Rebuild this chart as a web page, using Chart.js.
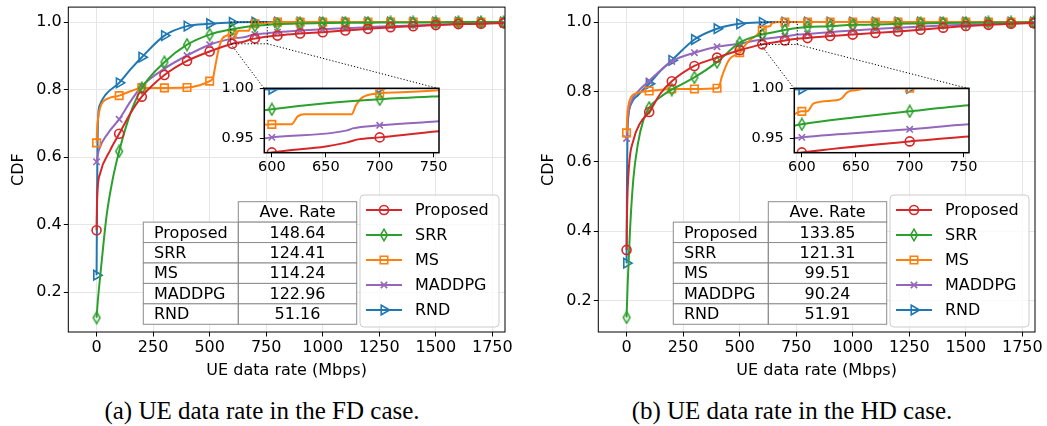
<!DOCTYPE html>
<html lang="en">
<head>
<meta charset="UTF-8">
<title>UE data rate CDF</title>
<script src="https://cdn.jsdelivr.net/npm/chart.js"></script>
<style>
  body { margin: 0; background: #fff; }
  #page { position: relative; width: 1047px; height: 426px; overflow: hidden; }
  canvas { position: absolute; }
  .caption { position: absolute; top: 398px; line-height: 26px; font-family: 'Liberation Serif', 'Times New Roman', serif; font-size: 25px; white-space: nowrap; transform: translateX(-50%); }
</style>
</head>
<body>
<div id="page">
  <canvas id="fdChart" width="523" height="380" style="left:0;top:0"></canvas>
  <canvas id="hdChart" width="517" height="380" style="left:530px;top:0"></canvas>
  <canvas id="fdInset" width="240" height="100" style="left:210px;top:80px"></canvas>
  <canvas id="hdInset" width="240" height="100" style="left:740px;top:80px"></canvas>
  <div class="caption" style="left:262px">(a) UE data rate in the FD case.</div>
  <div class="caption" style="left:792px">(b) UE data rate in the HD case.</div>
</div>

<script>
    // tick labels
    const xTicks = [0, 250, 500, 750, 1000, 1250, 1500, 1750];
    const yTicks = [0.2, 0.4, 0.6, 0.8, 1.0];
    const insetXTicks = [600, 650, 700, 750];
    const insetYTicks = [0.95, 1.00];

    const seriesNames = ['Proposed', 'SRR', 'MS', 'MADDPG', 'RND'];
    const fdAvgRate = [148.64, 124.41, 114.24, 122.96, 51.16];
    const hdAvgRate = [133.85, 121.31, 99.51, 90.24, 51.91];

    // FD case, [rate, cdf]
    const fdProposed = [[0,.383],[2,.47],[15,.55],[60,.62],[100,.669],[150,.73],[200,.779],[300,.843],[400,.885],[500,.913],[600,.936],[650,.942],[670,.946],[680,.949],[700,.951],[755,.957],[800,.960],[900,.966],[1000,.970],[1100,.975],[1200,.980],[1300,.985],[1400,.988],[1500,.991],[1600,.994],[1700,.995],[1800,.997]];
    const fdSRR = [[0,.124],[5,.17],[15,.24],[30,.34],[45,.43],[70,.53],[100,.617],[150,.73],[200,.804],[300,.881],[400,.933],[500,.963],[600,.979],[650,.985],[700,.989],[755,.992],[800,.994],[900,.996],[1000,.997],[1100,.998],[1200,.998],[1300,.999],[1400,.999],[1500,.999],[1600,1],[1700,1],[1800,1]];
    const fdMS = [[0,.642],[3,.69],[8,.72],[15,.745],[30,.765],[60,.776],[100,.782],[150,.795],[200,.805],[300,.805],[400,.806],[450,.812],[500,.825],[515,.835],[525,.87],[540,.92],[555,.95],[575,.96],[600,.964],[618,.964],[624,.972],[630,.974],[674,.974],[678,.983],[684,.991],[700,.995],[720,.996],[755,.998],[800,1],[900,1],[1000,1],[1100,1],[1200,1],[1300,1],[1400,1],[1500,1],[1600,1],[1700,1],[1800,1]];
    const fdMADDPG = [[0,.586],[10,.62],[50,.67],[100,.712],[150,.765],[200,.81],[300,.862],[400,.901],[500,.933],[600,.951],[670,.958],[675,.960],[700,.963],[755,.967],[800,.970],[900,.975],[1000,.979],[1100,.982],[1200,.985],[1300,.988],[1400,.990],[1500,.992],[1600,.994],[1700,.996],[1800,.998]];
    const fdRND = [[0,.25],[2,.45],[4,.62],[7,.72],[15,.755],[40,.785],[100,.82],[150,.86],[200,.896],[300,.96],[400,.988],[500,.995],[600,.999],[700,1],[800,1],[900,1],[1000,1],[1100,1],[1200,1],[1300,1],[1400,1],[1500,1],[1600,1],[1700,1],[1800,1]];

    // HD case
    const hdProposed = [[0,.346],[2,.45],[10,.58],[30,.66],[60,.71],[100,.742],[150,.795],[200,.830],[300,.874],[400,.898],[500,.919],[600,.936],[700,.947],[755,.952],[800,.954],[900,.960],[1000,.964],[1100,.969],[1200,.973],[1300,.978],[1400,.984],[1500,.989],[1600,.992],[1700,.995],[1800,.997]];
    const hdSRR = [[0,.152],[5,.25],[15,.40],[30,.55],[50,.65],[75,.72],[100,.754],[150,.785],[200,.806],[300,.841],[400,.885],[500,.941],[600,.964],[650,.971],[700,.977],[755,.983],[800,.986],[900,.988],[1000,.992],[1100,.993],[1200,.995],[1300,.996],[1400,.997],[1500,.998],[1600,.999],[1700,.999],[1800,1]];
    const hdMS = [[0,.682],[3,.73],[8,.76],[20,.785],[50,.797],[100,.802],[200,.808],[300,.808],[400,.81],[410,.815],[420,.84],[440,.875],[457,.895],[480,.905],[500,.912],[520,.93],[545,.948],[575,.962],[590,.972],[600,.977],[605,.977],[611,.985],[632,.988],[637,.99],[642,.996],[650,.998],[662,1],[700,1],[800,1],[900,1],[1000,1],[1100,1],[1200,1],[1300,1],[1400,1],[1500,1],[1600,1],[1700,1],[1800,1]];
    const hdMADDPG = [[0,.666],[5,.72],[20,.77],[50,.80],[100,.831],[200,.887],[300,.912],[400,.929],[500,.938],[600,.951],[700,.959],[755,.964],[800,.966],[900,.971],[1000,.976],[1100,.980],[1200,.984],[1300,.987],[1400,.990],[1500,.992],[1600,.994],[1700,.996],[1800,.998]];
    const hdRND = [[0,.308],[2,.55],[4,.68],[8,.73],[20,.765],[50,.79],[100,.823],[150,.86],[200,.89],[300,.95],[400,.981],[500,.995],[600,.999],[700,1],[800,1],[900,1],[1000,1],[1100,1],[1200,1],[1300,1],[1400,1],[1500,1],[1600,1],[1700,1],[1800,1]];

    // styles
    const seriesColors = ['#d62728', '#2ca02c', '#ff7f0e', '#9467bd', '#1f77b4'];
    const markerRadius = [4.5, 5, 5.3, 4.5, 5.5];
    const markerRotation = [0, 0, 0, 0, 90];
    const insetRange = { x: [593, 755], y: [0.9357, 1.0] };
    // inset box relative to main chart area
    const insetBox = { left: 196, top: 81.6, right: 370.7 };

    Chart.defaults.font.family = "'DejaVu Sans', sans-serif";
    Chart.defaults.font.size = 16;
    Chart.defaults.color = '#000';

    function thinDiamond(color) {
        const c = document.createElement('canvas');
        c.width = 10; c.height = 14;
        const g = c.getContext('2d');
        g.strokeStyle = color; g.lineWidth = 1.5;
        g.beginPath();
        g.moveTo(5, 1.2); g.lineTo(8.4, 7); g.lineTo(5, 12.8); g.lineTo(1.6, 7);
        g.closePath(); g.stroke();
        return c;
    }
    const markerStyles = ['circle', thinDiamond(seriesColors[1]), 'rect', 'crossRot', 'triangle'];

    function makeDatasets(seriesData) {
        return seriesData.map((pts, i) => ({
            label: seriesNames[i],
            data: pts.map(p => ({ x: p[0], y: p[1] })),
            borderColor: seriesColors[i],
            backgroundColor: 'rgba(0,0,0,0)',
            borderWidth: 2,
            pointStyle: markerStyles[i],
            pointRotation: markerRotation[i],
            pointBorderColor: seriesColors[i],
            pointBackgroundColor: 'rgba(0,0,0,0)',
            pointBorderWidth: 1.6,
            pointRadius: c => (c.raw && c.raw.x % 100 === 0) ? markerRadius[i] : 0,
            pointHoverRadius: 0,
            cubicInterpolationMode: 'monotone',
            fill: false,
            clip: 0
        }));
    }

    function noPad(s) { s.paddingTop = 0; s.paddingBottom = 0; s.paddingLeft = 0; s.paddingRight = 0; }

    function mainDecor(avgRates) {
        return {
            id: 'mainDecor',
            afterDatasetsDraw(chart) {
                const ctx = chart.ctx, a = chart.chartArea;
                const xs = chart.scales.x, ys = chart.scales.y;
                ctx.save();

                // zoomed region and connectors
                const x0 = xs.getPixelForValue(insetRange.x[0]), x1 = xs.getPixelForValue(insetRange.x[1]);
                const y0 = ys.getPixelForValue(insetRange.y[1]), y1 = ys.getPixelForValue(insetRange.y[0]);
                ctx.setLineDash([1.2, 2]);
                ctx.strokeStyle = '#000';
                ctx.lineWidth = 1;
                ctx.strokeRect(x0, y0, x1 - x0, y1 - y0);
                ctx.beginPath();
                ctx.moveTo(x0, y1); ctx.lineTo(a.left + insetBox.left, a.top + insetBox.top);
                ctx.moveTo(x1, y1); ctx.lineTo(a.left + insetBox.right, a.top + insetBox.top);
                ctx.stroke();
                ctx.setLineDash([]);

                // table
                const tl = a.left + 75, tm = a.left + 170, tr = a.left + 288.4;
                const rowH = 20.43, tt = a.bottom - 130.3;
                ctx.font = "16px 'DejaVu Sans'";
                ctx.textBaseline = 'middle';
                ctx.strokeStyle = '#8c8c8c';
                ctx.lineWidth = 1;
                ctx.fillStyle = '#fff';
                ctx.fillRect(tm, tt, tr - tm, rowH);
                ctx.strokeRect(tm, tt, tr - tm, rowH);
                ctx.fillStyle = '#000';
                ctx.textAlign = 'center';
                ctx.fillText('Ave. Rate', (tm + tr) / 2, tt + rowH / 2 + 1);
                seriesNames.forEach((name, i) => {
                    const y = tt + rowH * (i + 1);
                    ctx.fillStyle = '#fff';
                    ctx.fillRect(tl, y, tr - tl, rowH);
                    ctx.strokeRect(tl, y, tm - tl, rowH);
                    ctx.strokeRect(tm, y, tr - tm, rowH);
                    ctx.fillStyle = '#000';
                    ctx.textAlign = 'left';
                    ctx.fillText(name, tl + 10.7, y + rowH / 2 + 1);
                    ctx.textAlign = 'center';
                    ctx.fillText(avgRates[i].toFixed(2), (tm + tr) / 2, y + rowH / 2 + 1);
                });

                // legend
                const lw = 139, lh = 132;
                const lx = a.right - 6 - lw, ly = a.bottom - 5 - lh;
                ctx.beginPath();
                ctx.roundRect(lx, ly, lw, lh, 4);
                ctx.fillStyle = 'rgba(255,255,255,0.8)';
                ctx.fill();
                ctx.strokeStyle = '#cccccc';
                ctx.stroke();
                chart.data.datasets.forEach((ds, i) => {
                    const y = ly + 15 + i * 25;
                    ctx.strokeStyle = ds.borderColor;
                    ctx.lineWidth = 2;
                    ctx.beginPath();
                    ctx.moveTo(lx + 6, y); ctx.lineTo(lx + 42, y);
                    ctx.stroke();
                    ctx.lineWidth = 1.6;
                    ctx.fillStyle = 'rgba(0,0,0,0)';
                    Chart.helpers.drawPoint(ctx, {
                        pointStyle: ds.pointStyle, rotation: ds.pointRotation,
                        radius: markerRadius[i], borderWidth: 1.6
                    }, lx + 24, y);
                    ctx.fillStyle = '#000';
                    ctx.textAlign = 'left';
                    ctx.fillText(ds.label, lx + 55, y + 1);
                });

                // frame
                ctx.strokeStyle = '#000';
                ctx.lineWidth = 1;
                ctx.strokeRect(a.left, a.top, a.right - a.left, a.bottom - a.top);
                ctx.restore();
            }
        };
    }

    function mainChart(id, seriesData, avgRates, yMin, yMax, padRight) {
        return new Chart(document.getElementById(id), {
            type: 'line',
            data: { datasets: makeDatasets(seriesData) },
            options: {
                responsive: false,
                animation: false,
                devicePixelRatio: 1,
                events: [],
                layout: { padding: { left: 9, right: padRight, top: 6.7, bottom: 0 } },
                plugins: { legend: { display: false }, tooltip: { enabled: false } },
                scales: {
                    x: {
                        type: 'linear', min: -125, max: 1806,
                        afterBuildTicks: s => { s.ticks = xTicks.map(v => ({ value: v })); },
                        afterFit: s => { s.height = 48; noPad(s); },
                        grid: { color: '#e6e6e6', tickColor: '#000', tickLength: 4.5, lineWidth: 1 },
                        border: { display: false },
                        ticks: { padding: 2.2, autoSkip: false, maxRotation: 0, callback: v => String(v) },
                        title: { display: true, text: 'UE data rate (Mbps)', padding: 0 }
                    },
                    y: {
                        min: yMin, max: yMax,
                        afterBuildTicks: s => { s.ticks = yTicks.map(v => ({ value: v })); },
                        afterFit: s => { s.width = 59.3; noPad(s); },
                        grid: { color: '#e6e6e6', tickColor: '#000', tickLength: 4.5, lineWidth: 1 },
                        border: { display: false },
                        ticks: { padding: 2, autoSkip: false, callback: v => v.toFixed(1) },
                        title: { display: true, text: 'CDF', padding: 0 }
                    }
                }
            },
            plugins: [mainDecor(avgRates)]
        });
    }

    const insetDecor = {
        id: 'insetDecor',
        beforeDraw(chart) {
            const a = chart.chartArea, ctx = chart.ctx;
            ctx.save();
            ctx.fillStyle = '#fff';
            ctx.fillRect(a.left, a.top, a.right - a.left, a.bottom - a.top);
            ctx.restore();
        },
        afterDatasetsDraw(chart) {
            const a = chart.chartArea, ctx = chart.ctx;
            ctx.save();
            ctx.strokeStyle = '#000';
            ctx.lineWidth = 1.5;
            ctx.strokeRect(a.left, a.top, a.right - a.left, a.bottom - a.top);
            ctx.restore();
        }
    };

    function insetChart(id, seriesData) {
        return new Chart(document.getElementById(id), {
            type: 'line',
            data: { datasets: makeDatasets(seriesData) },
            options: {
                responsive: false,
                animation: false,
                devicePixelRatio: 1,
                events: [],
                layout: { padding: { left: 0, right: 11, top: 8.3, bottom: 0 } },
                plugins: { legend: { display: false }, tooltip: { enabled: false } },
                scales: {
                    x: {
                        type: 'linear', min: insetRange.x[0], max: insetRange.x[1],
                        afterBuildTicks: s => { s.ticks = insetXTicks.map(v => ({ value: v })); },
                        afterFit: s => { s.height = 27.3; noPad(s); },
                        grid: { drawOnChartArea: false, color: '#000', tickColor: '#000', tickLength: 4.5 },
                        border: { display: false },
                        ticks: { padding: 1, autoSkip: false, maxRotation: 0, font: { size: 14.5 }, callback: v => String(v) }
                    },
                    y: {
                        min: insetRange.y[0], max: insetRange.y[1],
                        afterBuildTicks: s => { s.ticks = insetYTicks.map(v => ({ value: v })); },
                        afterFit: s => { s.width = 54.3; noPad(s); },
                        grid: { drawOnChartArea: false, color: '#000', tickColor: '#000', tickLength: 4.5 },
                        border: { display: false },
                        ticks: { padding: 6, autoSkip: false, font: { size: 14.5 }, callback: v => v.toFixed(2) }
                    }
                }
            },
            plugins: [insetDecor]
        });
    }

    mainChart('fdChart', [fdProposed, fdSRR, fdMS, fdMADDPG, fdRND], fdAvgRate, 0.0817, 1.0444, 18);
    mainChart('hdChart', [hdProposed, hdSRR, hdMS, hdMADDPG, hdRND], hdAvgRate, 0.1103, 1.043, 12);
    insetChart('fdInset', [fdProposed, fdSRR, fdMS, fdMADDPG, fdRND]);
    insetChart('hdInset', [hdProposed, hdSRR, hdMS, hdMADDPG, hdRND]);
</script>
</body>
</html>
